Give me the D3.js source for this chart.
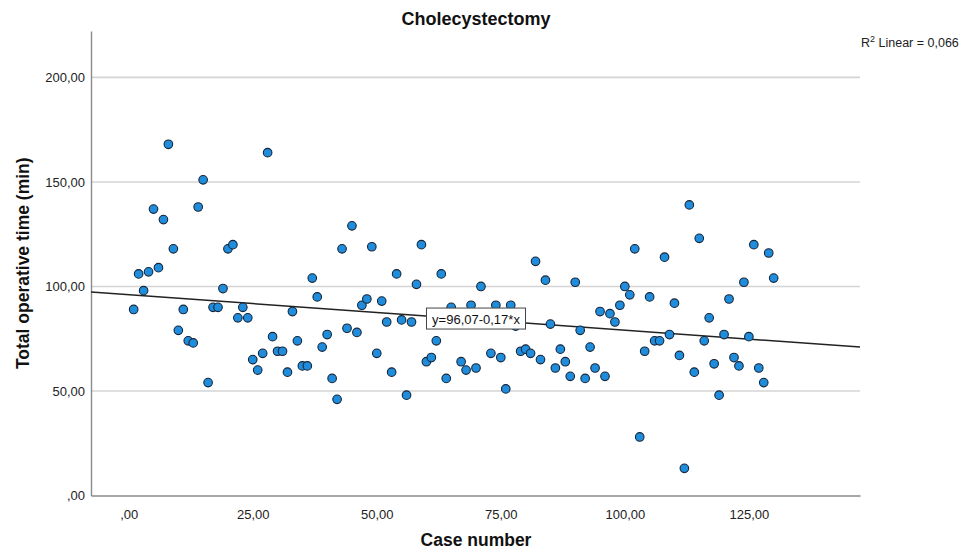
<!DOCTYPE html>
<html>
<head>
<meta charset="utf-8">
<script src="https://cdn.jsdelivr.net/npm/d3@7"></script>
<style>
  html, body { margin: 0; padding: 0; background: #fff; }
  svg { display: block; font-family: "Liberation Sans", Arial, sans-serif; }
</style>
</head>
<body>
<svg id="chart" width="971" height="551"></svg>
<script>
// ---- data ----
const caseNumbers = d3.range(1, 131);
const operativeTime = [
  89, 106, 98, 107, 137, 109, 132, 168, 118, 79,
  89, 74, 73, 138, 151, 54, 90, 90, 99, 118,
  120, 85, 90, 85, 65, 60, 68, 164, 76, 69,
  69, 59, 88, 74, 62, 62, 104, 95, 71, 77,
  56, 46, 118, 80, 129, 78, 91, 94, 119, 68,
  93, 83, 59, 106, 84, 48, 83, 101, 120, 64,
  66, 74, 106, 56, 90, 85, 64, 60, 91, 61,
  100, 84, 68, 91, 66, 51, 91, 81, 69, 70,
  68, 112, 65, 103, 82, 61, 70, 64, 57, 102,
  79, 56, 71, 61, 88, 57, 87, 83, 91, 100,
  96, 118, 28, 69, 95, 74, 74, 114, 77, 92,
  67, 13, 139, 59, 123, 74, 85, 63, 48, 77,
  94, 66, 62, 102, 76, 120, 61, 54, 116, 104
];
const xTicks = [0, 25, 50, 75, 100, 125];
const xTickLabels = [",00", "25,00", "50,00", "75,00", "100,00", "125,00"];
const yTicks = [0, 50, 100, 150, 200];
const yTickLabels = [",00", "50,00", "100,00", "150,00", "200,00"];
const regression = [96.07, -0.17]; // intercept, slope
const equationLabel = "y=96,07-0,17*x";
const equationAt = 70;
const rSquaredText = ["R", "2", " Linear = 0,066"];
const titleText = "Cholecystectomy";
const xTitle = "Case number";
const yTitle = "Total operative time (min)";

// ---- layout ----
const svg = d3.select("#chart");
const pLeft = 91, pRight = 860, pTop = 31, pBottom = 495.5;
const x = d3.scaleLinear().domain([-7.6, 147.4]).range([pLeft, pRight]);
const y = d3.scaleLinear().domain([0, 222.2]).range([pBottom, pTop]);

// grid lines
svg.append("g").selectAll("line")
  .data(yTicks.filter(d => d > 0))
  .join("line")
  .attr("x1", pLeft).attr("x2", pRight)
  .attr("y1", d => y(d)).attr("y2", d => y(d))
  .attr("stroke", "#d4d4d4").attr("stroke-width", 1.6);

// axes
const yAxis = d3.axisLeft(y).tickValues(yTicks)
  .tickFormat((d, i) => yTickLabels[i]).tickSize(0).tickPadding(6);
const gy = svg.append("g").attr("transform", `translate(${pLeft},0)`).call(yAxis);
gy.select(".domain").attr("stroke", "#8a8a8a").attr("stroke-width", 1.4);
gy.selectAll("text").attr("font-size", 13).attr("fill", "#222");

const xAxis = d3.axisBottom(x).tickValues(xTicks)
  .tickFormat((d, i) => xTickLabels[i]).tickSize(0).tickPadding(14);
const gx = svg.append("g").attr("transform", `translate(0,${pBottom})`).call(xAxis);
gx.select(".domain").attr("stroke", "#8a8a8a").attr("stroke-width", 1.4);
gx.selectAll("text").attr("font-size", 13).attr("fill", "#222");

// regression line
const xd = x.domain();
svg.append("line")
  .attr("x1", x(xd[0])).attr("y1", y(regression[0] + regression[1] * xd[0]))
  .attr("x2", x(xd[1])).attr("y2", y(regression[0] + regression[1] * xd[1]))
  .attr("stroke", "#222").attr("stroke-width", 1.5);

// points
svg.append("g").selectAll("circle")
  .data(caseNumbers.map((c, i) => [c, operativeTime[i]]))
  .join("circle")
  .attr("cx", d => x(d[0])).attr("cy", d => y(d[1]))
  .attr("r", 4.3)
  .attr("fill", "#1f8ddc")
  .attr("stroke", "#15253a").attr("stroke-width", 1.1);

// equation label box
const ex = x(equationAt), ey = y(regression[0] + regression[1] * equationAt);
const eq = svg.append("g");
const bw = 99, bh = 21;
eq.append("rect")
  .attr("x", ex - bw / 2).attr("y", ey - bh / 2 - 1)
  .attr("width", bw).attr("height", bh)
  .attr("fill", "#fff").attr("stroke", "#444").attr("stroke-width", 1);
eq.append("text")
  .attr("x", ex).attr("y", ey + 4)
  .attr("text-anchor", "middle").attr("font-size", 13).attr("fill", "#111")
  .text(equationLabel);

// R squared
const rt = svg.append("text").attr("x", 861).attr("y", 47)
  .attr("font-size", 12.5).attr("fill", "#222");
rt.append("tspan").text(rSquaredText[0]);
rt.append("tspan").attr("dy", -5).attr("font-size", 9).text(rSquaredText[1]);
rt.append("tspan").attr("dy", 5).text(rSquaredText[2]);

// titles
svg.append("text").attr("x", 476).attr("y", 25)
  .attr("text-anchor", "middle").attr("font-size", 18).attr("font-weight", "bold")
  .attr("fill", "#111").text(titleText);
svg.append("text").attr("x", 476).attr("y", 546)
  .attr("text-anchor", "middle").attr("font-size", 17.5).attr("font-weight", "bold")
  .attr("fill", "#111").text(xTitle);
svg.append("text")
  .attr("transform", `translate(29,${(pTop + pBottom) / 2}) rotate(-90)`)
  .attr("text-anchor", "middle").attr("font-size", 17.5).attr("font-weight", "bold")
  .attr("fill", "#111").text(yTitle);
</script>
</body>
</html>
